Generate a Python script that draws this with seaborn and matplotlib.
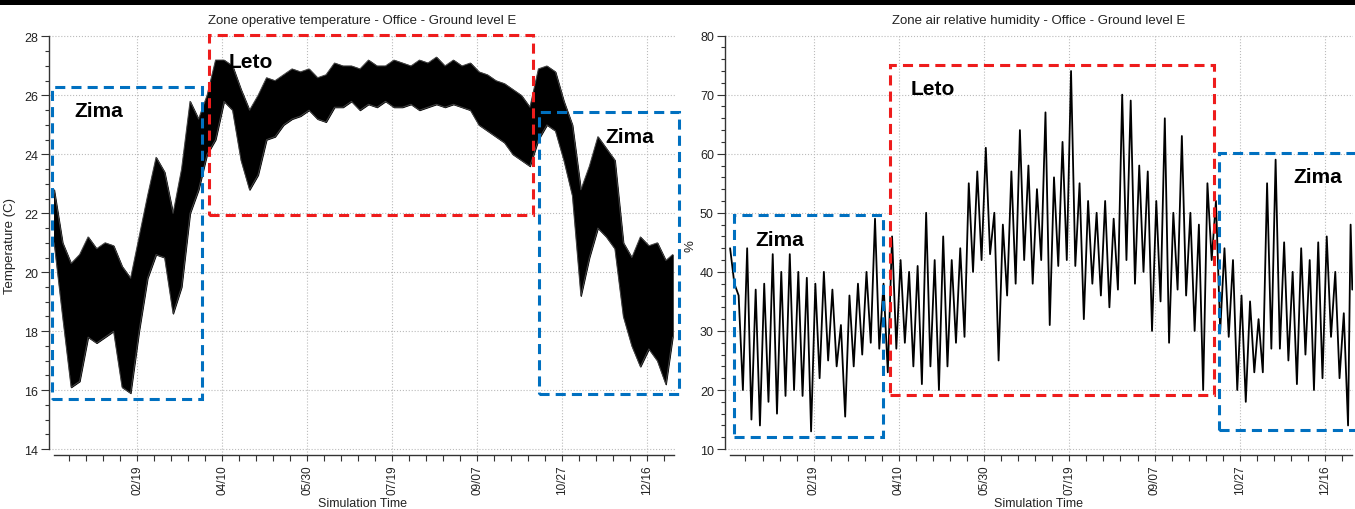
import matplotlib
matplotlib.use('Agg')
import matplotlib.pyplot as plt
from matplotlib.patches import Rectangle
from matplotlib.ticker import FixedLocator, MultipleLocator
import seaborn as sns
import pandas as pd

# sample days (0 = Jan 1), every 5 days
days = list(range(0, 361, 5)) + [364]

temp_lo = [21.0, 18.5, 16.1, 16.3, 17.8, 17.6, 17.8, 18.0, 16.1, 15.9,
           18.0, 19.8, 20.6, 20.5, 18.6, 19.5, 22.0, 22.8, 24.0, 24.5,
           25.8, 25.5, 23.8, 22.8, 23.3, 24.5, 24.6, 25.0, 25.2, 25.3,
           25.5, 25.2, 25.1, 25.6, 25.6, 25.8, 25.5, 25.7, 25.6, 25.8,
           25.6, 25.6, 25.7, 25.5, 25.6, 25.7, 25.6, 25.7, 25.6, 25.5,
           25.0, 24.8, 24.6, 24.4, 24.0, 23.8, 23.6, 24.5, 25.0, 24.8,
           23.8, 22.6, 19.2, 20.5, 21.5, 21.2, 20.8, 18.5, 17.5, 16.8,
           17.4, 17.0, 16.2, 17.8]
temp_hi = [22.8, 21.0, 20.3, 20.6, 21.2, 20.8, 21.0, 20.9, 20.2, 19.8,
           21.2, 22.6, 23.9, 23.4, 22.0, 23.5, 25.8, 25.2, 26.0, 27.2,
           27.2, 27.0, 26.2, 25.5, 26.0, 26.6, 26.5, 26.7, 26.9, 26.8,
           26.9, 26.6, 26.7, 27.1, 27.0, 27.0, 26.9, 27.2, 27.0, 27.0,
           27.2, 27.1, 27.0, 27.2, 27.1, 27.3, 27.0, 27.2, 27.0, 27.1,
           26.8, 26.7, 26.5, 26.4, 26.2, 26.0, 25.6, 26.9, 27.0, 26.8,
           25.8, 25.0, 22.8, 23.6, 24.6, 24.2, 23.8, 21.0, 20.5, 21.2,
           20.9, 21.0, 20.4, 20.6]

rh_lo = [38, 20, 15, 14, 18, 16, 19, 20, 19, 13,
         22, 25, 24, 15.5, 24, 26, 28, 27, 23, 27,
         28, 24, 21, 24, 20, 24, 28, 29, 40, 42,
         43, 25, 36, 38, 42, 38, 42, 31, 41, 42,
         41, 32, 38, 36, 34, 37, 42, 38, 40, 30,
         35, 28, 37, 36, 30, 20, 42, 30, 29, 20,
         18, 23, 23, 27, 27, 25, 21, 26, 20, 22,
         29, 22, 14, 37]
rh_hi = [44, 36, 44, 37, 38, 43, 40, 43, 40, 39,
         38, 40, 37, 31, 36, 38, 40, 49, 38, 46,
         42, 40, 41, 50, 42, 46, 42, 44, 55, 57,
         61, 50, 48, 57, 64, 58, 54, 67, 56, 62,
         74, 55, 52, 50, 52, 49, 70, 69, 58, 57,
         52, 66, 50, 63, 50, 48, 55, 52, 44, 42,
         36, 35, 32, 55, 59, 45, 40, 44, 42, 45,
         46, 40, 33, 48]

tick_days = [49, 99, 149, 199, 249, 299, 349]
tick_labels = ['02/19', '04/10', '05/30', '07/19', '09/07', '10/27', '12/16']

sns.set_theme(style='white')
plt.rcParams['font.family'] = ['Liberation Sans', 'DejaVu Sans']

BLUE = '#0070c0'
RED = '#ee1c1c'
TXT = '#222222'

fig = plt.figure(figsize=(13.55, 5.10), dpi=100)
fig.add_artist(Rectangle((0, 1 - 6 / 510), 1, 6 / 510, transform=fig.transFigure,
                         color='black', lw=0))

ax1 = fig.add_axes([49 / 1355, 54 / 510, 626 / 1355, 420 / 510])
ax2 = fig.add_axes([725 / 1355, 54 / 510, 628 / 1355, 420 / 510])

# temperature: dense hourly band drawn as low/high envelope
temp = pd.DataFrame({'day': days, 'lo': temp_lo, 'hi': temp_hi})
ax1.fill_between(temp['day'], temp['lo'], temp['hi'], color='black', lw=0.8)
sns.lineplot(data=temp, x='day', y='lo', ax=ax1, color='#444444', lw=0.7)
sns.lineplot(data=temp, x='day', y='hi', ax=ax1, color='#444444', lw=0.7)

# humidity: spiky trace, alternate high/low readings
rows = []
for d, lo, hi in zip(days, rh_lo, rh_hi):
    rows.append((d, hi))
    rows.append((min(d + 2.5, 365), lo))
rh = pd.DataFrame(rows, columns=['day', 'rh'])
sns.lineplot(data=rh, x='day', y='rh', ax=ax2, color='black', lw=1.3,
             estimator=None, sort=False)


def style(ax, ylo, yhi, ymaj, ymin, ylim):
    ax.set_xlim(-3, 365.4)
    ax.set_ylim(*ylim)
    for s in ['top', 'right']:
        ax.spines[s].set_visible(False)
    for s in ['left', 'bottom']:
        ax.spines[s].set_color('#333333')
        ax.spines[s].set_linewidth(1.0)
    ax.spines['left'].set_bounds(ylo, yhi)
    ax.spines['bottom'].set_bounds(0, 365)
    ax.set_xticks(tick_days)
    ax.set_xticklabels(tick_labels, rotation=90)
    ax.xaxis.set_minor_locator(FixedLocator([d for d in range(9, 365, 10)
                                             if d not in tick_days]))
    ax.yaxis.set_major_locator(MultipleLocator(ymaj))
    ax.yaxis.set_minor_locator(MultipleLocator(ymin))
    ax.tick_params(axis='x', which='both', direction='out', length=4, width=0.8,
                   color='#333333', labelsize=8.5, labelcolor=TXT, bottom=True, pad=3)
    ax.tick_params(axis='y', which='major', direction='out', length=6, width=0.8,
                   color='#333333', labelsize=9, labelcolor=TXT, left=True, pad=2)
    ax.tick_params(axis='y', which='minor', direction='out', length=3, width=0.8,
                   color='#333333', left=True)
    ax.grid(True, which='major', ls=':', color='#bbbbbb', lw=0.8)
    ax.set_xlabel('Simulation Time', fontsize=9, color=TXT)
    ax.xaxis.set_label_coords(0.5, -0.1)


def box(ax, x0, x1, y0, y1, color):
    ax.add_patch(Rectangle((x0, y0), x1 - x0, y1 - y0, fill=False, ec=color,
                           lw=2.2, ls=(0, (3.3, 2.0)), clip_on=False, zorder=5))


def season(ax, x, y, label):
    ax.text(x, y, label, fontsize=15, fontweight='bold', color='black',
            ha='center', va='center', zorder=6)


style(ax1, 14, 28, 2, 0.5, (13.8, 28.05))
ax1.set_ylabel('Temperature (C)', fontsize=9.5, color=TXT)
ax1.yaxis.set_label_coords(-0.053, 0.5)
ax1.set_title('Zone operative temperature - Office - Ground level E',
              fontsize=9.5, color=TXT, pad=9)
box(ax1, -1, 87, 15.7, 26.3, BLUE)
box(ax1, 91, 282, 21.94, 28.05, RED)
box(ax1, 285.5, 367.5, 15.88, 25.45, BLUE)
season(ax1, 26, 25.5, 'Zima')
season(ax1, 116, 27.15, 'Leto')
season(ax1, 339, 24.6, 'Zima')

style(ax2, 10, 80, 10, 2, (9.0, 80.1))
ax2.set_ylabel('%', fontsize=9.5, color=TXT)
ax2.yaxis.set_label_coords(-0.045, 0.5)
ax2.set_title('Zone air relative humidity - Office - Ground level E',
              fontsize=9.5, color=TXT, pad=9)
box(ax2, 2, 89.5, 12.1, 49.7, BLUE)
box(ax2, 93.6, 283.9, 19.2, 75.1, RED)
box(ax2, 286.8, 372, 13.3, 60.2, BLUE)
season(ax2, 29, 45.5, 'Zima')
season(ax2, 119, 71.1, 'Leto')
season(ax2, 345, 56.2, 'Zima')

fig.savefig('out.png', dpi=100)
plt.close(fig)
